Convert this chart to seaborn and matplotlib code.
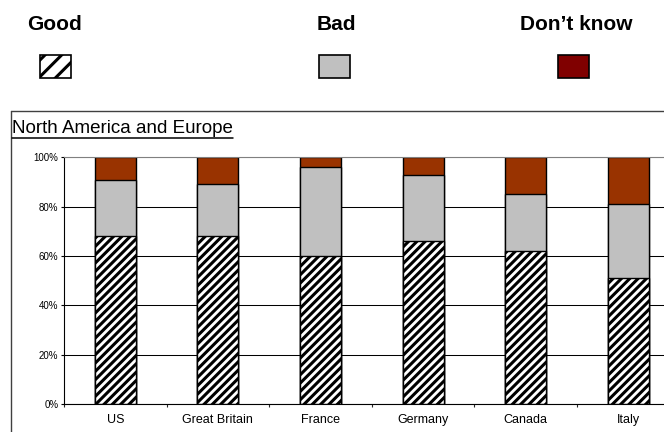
import matplotlib
matplotlib.use("Agg")
import matplotlib.pyplot as plt
from matplotlib.lines import Line2D
from matplotlib.patches import Rectangle
from matplotlib.ticker import FixedLocator, PercentFormatter
import numpy as np
import pandas as pd
import seaborn as sns

# Survey answers by country, in percent
countries = ["US", "Great Britain", "France", "Germany", "Canada", "Italy"]
good = [68, 68, 60, 66, 62, 51]
bad = [23, 21, 36, 27, 23, 30]
dont_know = [9, 11, 4, 7, 15, 19]

series_names = ["Good", "Bad", "Don\u2019t know"]
bar_colors = ["white", "#C0C0C0", "#993300"]
swatch_colors = ["white", "#C0C0C0", "#800000"]
y_ticks = [0, 20, 40, 60, 80, 100]
panel_title = "North America and Europe"

sns.set_style("white")
plt.rcParams["font.family"] = ["Liberation Sans", "DejaVu Sans"]
plt.rcParams["hatch.linewidth"] = 2.2
plt.rcParams["hatch.color"] = "black"

W, H = 664, 432
fig = plt.figure(figsize=(W / 100, H / 100), dpi=100)
ax = fig.add_axes([64 / W, 1 - 404 / H, 615.6 / W, 246.7 / H])

df = pd.DataFrame({"country": countries, "good": good, "bad": bad, "dk": dont_know})
df["good_top"] = df["good"]
df["bad_top"] = df["good"] + df["bad"]
df["dk_top"] = df["bad_top"] + df["dk"]

# stacked look: draw cumulative totals from tallest to shortest
common = dict(x="country", order=countries, width=0.4, edgecolor="black",
              linewidth=1.0, ax=ax, zorder=2, saturation=1, errorbar=None)
sns.barplot(data=df, y="dk_top", color=bar_colors[2], **common)
sns.barplot(data=df, y="bad_top", color=bar_colors[1], **common)
sns.barplot(data=df, y="good_top", color=bar_colors[0], hatch="////", **common)

ax.set_xlim(-0.5, len(countries) - 0.5)
ax.set_ylim(0, 100)
ax.set_xlabel("")
ax.set_ylabel("")

ax.yaxis.set_major_locator(FixedLocator(y_ticks))
ax.yaxis.set_major_formatter(PercentFormatter(decimals=0))
ax.tick_params(axis="y", labelsize=7, length=2.5, width=0.8, pad=1.5,
               direction="out", left=True, colors="black")

# category boundaries carry the tick marks, centres carry the labels
ax.set_xticks(np.arange(len(countries) + 1) - 0.5)
ax.set_xticklabels([])
ax.set_xticks(np.arange(len(countries)), minor=True)
ax.set_xticklabels(countries, minor=True)
ax.tick_params(axis="x", which="major", length=2.5, width=0.8, direction="out", bottom=True)
ax.tick_params(axis="x", which="minor", length=0, labelsize=9, pad=7, colors="black")

for side in ["left", "bottom"]:
    ax.spines[side].set_color("black")
    ax.spines[side].set_linewidth(0.8)
for side in ["top", "right"]:
    ax.spines[side].set_color("#808080")
    ax.spines[side].set_linewidth(0.8)

ax.set_axisbelow(True)
ax.yaxis.grid(True, color="black", linewidth=0.75)
ax.xaxis.grid(False)
ax.yaxis.get_major_ticks()[-1].gridline.set_color("#808080")

# legend row across the top
label_x = [55, 336, 576.5]
swatch_x = [55, 334, 573.5]
for name, lx, sx, col, hatch in zip(series_names, label_x, swatch_x, swatch_colors, ["//", None, None]):
    fig.text(lx / W, 1 - 30 / H, name, ha="center", va="baseline",
             fontsize=15, fontweight="bold", color="black")
    fig.patches.append(Rectangle(((sx - 15.5) / W, 1 - 78 / H), 31 / W, 23 / H,
                                 transform=fig.transFigure, facecolor=col,
                                 edgecolor="black", linewidth=1.2, hatch=hatch))

# panel frame
frame_top = 1 - 110.7 / H
fig.lines.append(Line2D([11 / W, 11 / W], [0, frame_top], transform=fig.transFigure,
                        color="#404040", linewidth=1.0))
fig.lines.append(Line2D([11 / W, 1.0], [frame_top, frame_top], transform=fig.transFigure,
                        color="#404040", linewidth=1.0))

# underlined panel title
title = fig.text(12 / W, 1 - 133 / H, panel_title, ha="left", va="baseline",
                 fontsize=13.5, color="black")
fig.canvas.draw()
bb = title.get_window_extent()
fig.lines.append(Line2D([bb.x0 / W, bb.x1 / W], [1 - 138 / H, 1 - 138 / H],
                        transform=fig.transFigure, color="black", linewidth=1.1))

fig.savefig("out.png", dpi=100)
